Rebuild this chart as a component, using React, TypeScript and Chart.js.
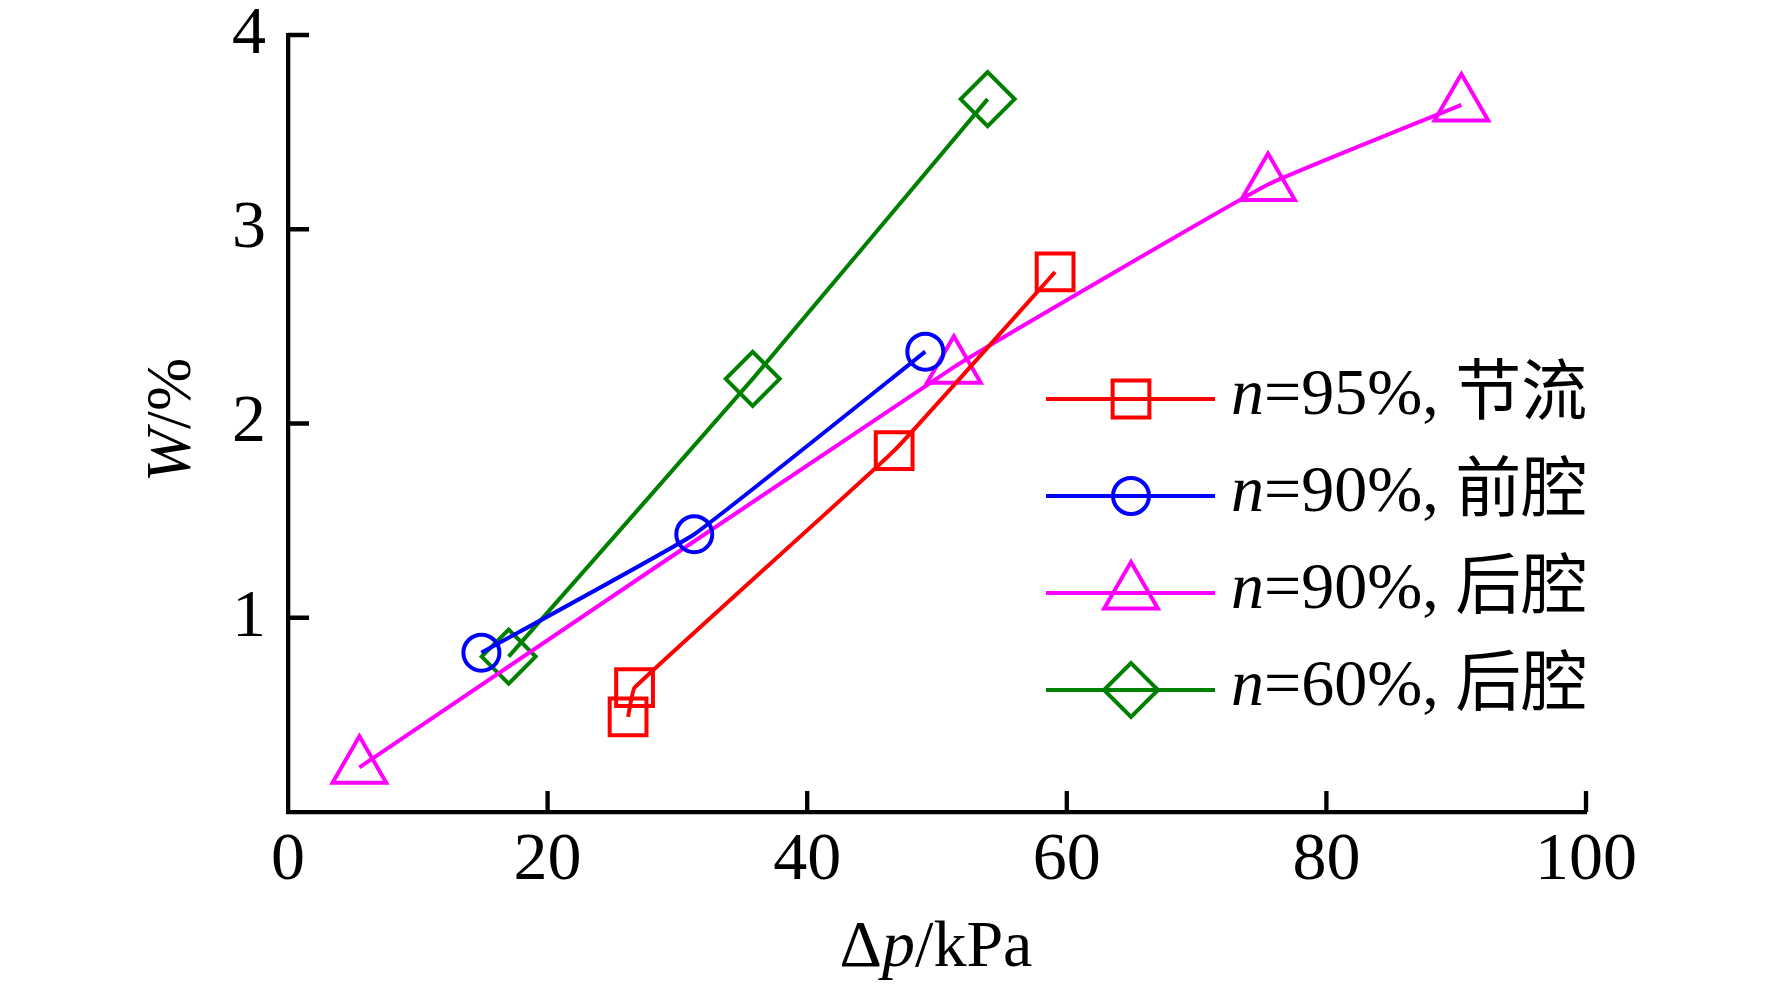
import { useEffect, useRef } from 'react';
import { Chart, registerables } from 'chart.js';
import { drawPoint } from 'chart.js/helpers';

Chart.register(...registerables);

const serif = '"Liberation Serif", "Times New Roman", serif';
const mixed = '"Liberation Serif", "Noto Sans CJK SC", serif';

// Δp (kPa) / W (%)
const throttle95Dp = [26.2, 26.7, 46.7, 59.1];
const throttle95W = [0.49, 0.64, 1.86, 2.78];
const front90Dp = [14.9, 31.3, 49.1];
const front90W = [0.82, 1.43, 2.37];
const rear90Dp = [5.5, 51.3, 75.5, 90.4];
const rear90W = [0.23, 2.29, 3.23, 3.64];
const rear60Dp = [17.0, 35.8, 53.9];
const rear60W = [0.8, 2.23, 3.67];

const seriesLabels = ['=95%, 节流', '=90%, 前腔', '=90%, 后腔', '=60%, 后腔'];
const seriesColors = ['#ff0000', '#0000ff', '#ff00ff', '#008000'];
const xTicks = [0, 20, 40, 60, 80, 100];
const yTicks = [1, 2, 3, 4];

const markers = [
  { style: 'rect', radius: 26 },
  { style: 'circle', radius: 18 },
  { style: 'triangle', radius: 31 },
  { style: 'rectRot', radius: 27 },
];

const LW = 4;
const AXIS_W = 4.3;

const toPoints = (xs: number[], ys: number[]) => xs.map((x, i) => ({ x, y: ys[i] }));

// text made of plain and italic runs
const drawRuns = (ctx: CanvasRenderingContext2D, runs: [string, boolean][], x: number, y: number, size: number, center: boolean) => {
  const fonts = runs.map(([, it]) => `${it ? 'italic ' : ''}${size}px ${mixed}`);
  const widths = runs.map(([t], i) => {
    ctx.font = fonts[i];
    return ctx.measureText(t).width;
  });
  const total = widths.reduce((a, b) => a + b, 0);
  let cx = center ? x - total / 2 : x;
  ctx.textAlign = 'left';
  runs.forEach(([t], i) => {
    ctx.font = fonts[i];
    ctx.fillText(t, cx, y);
    cx += widths[i];
  });
};

const decorPlugin = {
  id: 'decor',
  afterDraw(chart: any) {
    const { ctx, chartArea, scales } = chart;
    ctx.save();
    // inward tick marks
    ctx.strokeStyle = '#000';
    ctx.lineWidth = AXIS_W;
    ctx.beginPath();
    xTicks.filter((v) => v > 0).forEach((v) => {
      const px = scales.x.getPixelForValue(v);
      ctx.moveTo(px, chartArea.bottom);
      ctx.lineTo(px, chartArea.bottom - 21);
    });
    yTicks.forEach((v) => {
      const py = scales.y.getPixelForValue(v);
      ctx.moveTo(chartArea.left, py);
      ctx.lineTo(chartArea.left + 21, py);
    });
    ctx.stroke();

    // axis titles
    ctx.fillStyle = '#000';
    ctx.textBaseline = 'alphabetic';
    drawRuns(ctx, [['Δ', false], ['p', true], ['/kPa', false]], 936, 966, 66, true);
    ctx.save();
    ctx.translate(190, 420);
    ctx.rotate(-Math.PI / 2);
    drawRuns(ctx, [['W', true], ['/%', false]], 0, 0, 64, true);
    ctx.restore();

    // legend
    const rows = [399, 496, 593, 690];
    rows.forEach((ry, i) => {
      ctx.strokeStyle = seriesColors[i];
      ctx.fillStyle = 'rgba(0,0,0,0)';
      ctx.lineWidth = LW;
      ctx.beginPath();
      ctx.moveTo(1046, ry);
      ctx.lineTo(1215, ry);
      ctx.stroke();
      drawPoint(ctx, { pointStyle: markers[i].style as any, radius: markers[i].radius, rotation: 0, borderWidth: LW }, 1131, ry);
      ctx.fillStyle = '#000';
      drawRuns(ctx, [['n', true], [seriesLabels[i], false]], 1231, ry + 15, 66, false);
    });
    ctx.restore();
  },
};

export default function App() {
  const canvasRef = useRef<HTMLCanvasElement | null>(null);
  const chartRef = useRef<Chart | null>(null);

  useEffect(() => {
    if (!canvasRef.current) return;
    if (chartRef.current) chartRef.current.destroy();

    const sets = [
      toPoints(throttle95Dp, throttle95W),
      toPoints(front90Dp, front90W),
      toPoints(rear90Dp, rear90W),
      toPoints(rear60Dp, rear60W),
    ];

    chartRef.current = new Chart(canvasRef.current, {
      type: 'line',
      data: {
        datasets: sets.map((data, i) => ({
          label: 'n' + seriesLabels[i],
          data,
          borderColor: seriesColors[i],
          backgroundColor: 'rgba(0,0,0,0)',
          borderWidth: LW,
          pointStyle: markers[i].style as any,
          pointRadius: markers[i].radius,
          pointBorderWidth: LW,
          pointBorderColor: seriesColors[i],
          pointBackgroundColor: 'rgba(0,0,0,0)',
          tension: 0.1,
          fill: false,
          clip: false as any,
        })),
      },
      options: {
        animation: false,
        responsive: false,
        devicePixelRatio: 1,
        layout: { padding: { top: 33, right: 186, bottom: 0, left: 0 } },
        plugins: { legend: { display: false }, tooltip: { enabled: false } },
        scales: {
          x: {
            type: 'linear',
            min: 0,
            max: 100,
            afterBuildTicks: (s: any) => {
              s.ticks = xTicks.map((value) => ({ value }));
            },
            afterFit: (s: any) => {
              s.height = 174;
              s.paddingLeft = 0;
              s.paddingRight = 0;
            },
            ticks: { color: '#000', font: { family: serif, size: 68 }, padding: 8, maxRotation: 0, autoSkip: false },
            grid: { display: false, drawTicks: false },
            border: { display: true, color: '#000', width: AXIS_W },
          },
          y: {
            type: 'linear',
            min: 0,
            max: 4,
            afterBuildTicks: (s: any) => {
              s.ticks = yTicks.map((value) => ({ value }));
            },
            afterFit: (s: any) => {
              s.width = 288;
              s.paddingTop = 0;
              s.paddingBottom = 0;
            },
            ticks: { color: '#000', font: { family: serif, size: 68 }, padding: 22 },
            grid: { display: false, drawTicks: false },
            border: { display: true, color: '#000', width: AXIS_W },
          },
        },
      },
      plugins: [decorPlugin],
    });

    return () => {
      if (chartRef.current) {
        chartRef.current.destroy();
        chartRef.current = null;
      }
    };
  }, []);

  return (
    <div style={{ position: 'fixed', left: 0, top: 0, width: 1772, height: 986, background: '#fff' }}>
      <canvas ref={canvasRef} width={1772} height={986} />
    </div>
  );
}
